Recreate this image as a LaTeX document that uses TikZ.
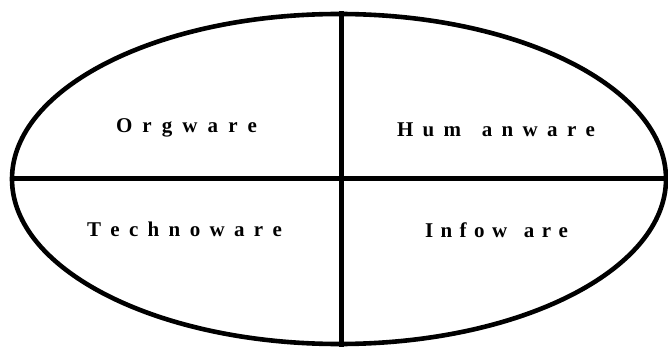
\documentclass[tikz,border=0pt]{standalone}
\usepackage{fontspec}
\setmainfont{Liberation Serif}
\usetikzlibrary{shapes.geometric}
\begin{document}
\begin{tikzpicture}[x=1pt,y=-1pt,
  outline/.style={draw=black, line width=4.6pt, ellipse, inner sep=0pt},
  divider/.style={draw=black, line width=5pt},
  label/.style={anchor=base, inner sep=0pt, font=\bfseries\fontsize{21}{22}\selectfont}]
\useasboundingbox (0,0) rectangle (668,347);
\node[outline, minimum width=654pt, minimum height=330pt] (ell) at (339,179) {};
\coordinate (hl) at (12,179);
\coordinate (hr) at (667,179);
\coordinate (vt) at (341,11.5);
\coordinate (vb) at (341,347);
\draw[divider] (hl) -- (hr);
\draw[divider] (vt) -- (vb);
\node[label] (org) at (186.5,133) {\makebox[141pt][s]{O\hfill r\hfill g\hfill w\hfill a\hfill r\hfill e}};
\node[label] (hum) at (496,137) {\makebox[198pt][s]{H\hfill u\hfill m\hfill\hspace{6pt} a\hfill n\hfill w\hfill a\hfill r\hfill e}};
\node[label] (tech) at (184.5,236) {\makebox[195pt][s]{T\hfill e\hfill c\hfill h\hfill n\hfill o\hfill w\hfill a\hfill r\hfill e}};
\node[label] (info) at (496.5,237) {\makebox[143pt][s]{I\hfill n\hfill f\hfill o\hfill w\hfill\hspace{4pt} a\hfill r\hfill e}};
\end{tikzpicture}
\end{document}
